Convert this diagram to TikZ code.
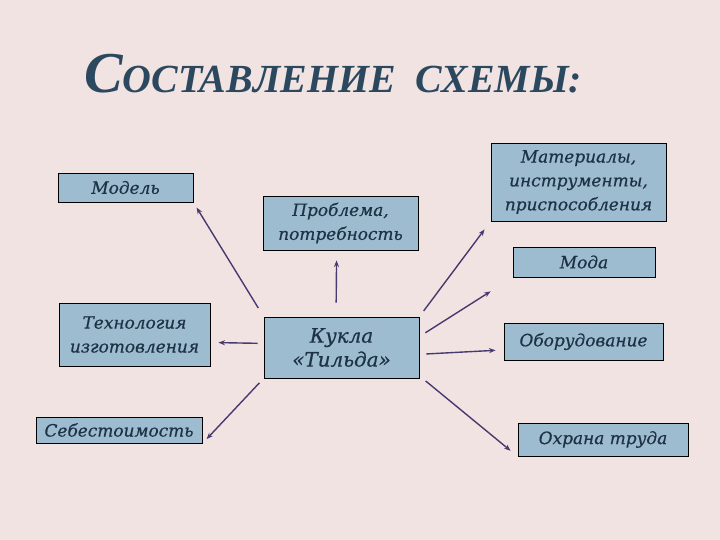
\documentclass[tikz,border=0pt]{standalone}
\usepackage{fontspec}
\setmainfont{DejaVu Serif}
\newfontfamily\boxfont[FakeBold=0.6]{DejaVu Serif}
\newfontfamily\titlefont{Liberation Serif}
\usetikzlibrary{arrows.meta}

\definecolor{bgpink}{RGB}{240,227,226}
\definecolor{boxblue}{RGB}{158,188,208}
\definecolor{inkblue}{RGB}{30,50,70}
\definecolor{titleblue}{RGB}{44,72,94}
\definecolor{arrowpurple}{RGB}{72,58,110}

\tikzset{
  sbox/.style={draw=black, line width=0.9bp, fill=boxblue, text=inkblue,
    align=center, inner sep=2bp, font=\boxfont\itshape\fontsize{17}{24}\selectfont},
  link/.style={arrowpurple, line width=1.4bp, ->}
}

\begin{document}
\begin{tikzpicture}[x=1bp, y=-1bp, >={Stealth[length=6.5bp,width=5bp]}]

% фон
\useasboundingbox (0,0) rectangle (720,540);
\fill[bgpink] (0,0) rectangle (720,540);

% заголовок
\node[anchor=base west, text=titleblue, inner sep=0pt] (title) at (84,93)
  {\titlefont\bfseries\itshape\fontsize{58}{58}\selectfont С\fontsize{40}{40}\selectfont ОСТАВЛЕНИЕ\ \ СХЕМЫ:};

% блоки (имя/x/y/ширина/высота/текст)
\foreach \name/\x/\y/\w/\h/\text in {
    model/125.5/187.5/135/29/{Модель},
    problem/340.5/223/155/54/{Проблема,\\потребность},
    mater/578.5/182/175/78/{Материалы,\\инструменты,\\приспособления},
    moda/584/262/142/30/{Мода},
    tech/134.5/334.5/151/63/{Технология\\изготовления},
    oborud/583.5/341.5/159/37/{Оборудование},
    sebest/119/430/166/26/{Себестоимость},
    ohrana/603/439.5/170/33/{Охрана труда}} {
    \node[sbox, minimum width=\w bp, minimum height=\h bp] (\name) at (\x,\y) {\text};
}

% центр
\node[sbox, minimum width=155bp, minimum height=61bp,
  font=\boxfont\itshape\fontsize{20}{24}\selectfont] (kukla) at (341.5,347.5) {Кукла\\«Тильда»};

% стрелки от центра
\foreach \a/\b/\s/\e in {
    kukla.north west/model.south east/10/6,
    kukla.100/problem.262/14/10,
    kukla.north east/mater.south west/7/10,
    kukla.8/moda.south west/7/26,
    kukla.-5/oborud.186/7/8,
    kukla.-20/ohrana.south west/8/9,
    kukla.177/tech.-6/6/8,
    kukla.south west/sebest.south east/6/6}{
    \draw[link, shorten <=\s bp, shorten >=\e bp] (\a) -- (\b);
}

\end{tikzpicture}
\end{document}
